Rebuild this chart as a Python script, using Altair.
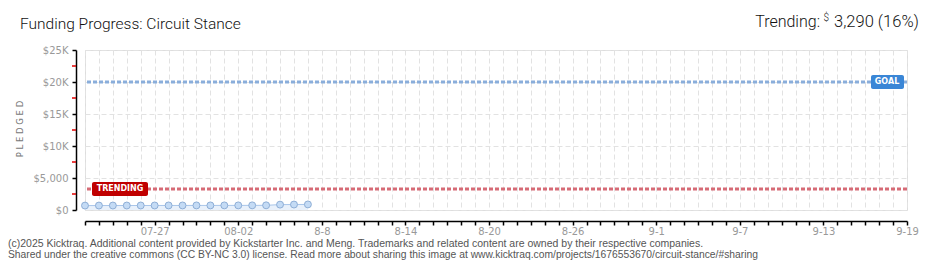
import altair as alt
import pandas as pd

# ---------------- data ----------------
dates = ["2025-07-22", "2025-07-23", "2025-07-24", "2025-07-25", "2025-07-26",
         "2025-07-27", "2025-07-28", "2025-07-29", "2025-07-30", "2025-07-31",
         "2025-08-01", "2025-08-02", "2025-08-03", "2025-08-04", "2025-08-05",
         "2025-08-06", "2025-08-07"]
pledged = [690, 695, 700, 700, 705, 705, 710, 710, 715, 715,
           720, 720, 725, 730, 840, 855, 870]

goal_value = 20000
trending_value = 3290

x_label_dates = ["2025-07-27", "2025-08-02", "2025-08-08", "2025-08-14", "2025-08-20",
                 "2025-08-26", "2025-09-01", "2025-09-07", "2025-09-13", "2025-09-19"]
x_label_texts = ["07-27", "08-02", "8-8", "8-14", "8-20", "8-26", "9-1", "9-7", "9-13", "9-19"]
x_start = "2025-07-22"
x_end = "2025-09-19"

y_tick_values = [0, 5000, 10000, 15000, 20000, 25000]
y_tick_labels = ["$0", "$5,000", "$10K", "$15K", "$20K", "$25K"]
y_minor_values = [2500, 7500, 12500, 17500, 22500]

title_text = "Funding Progress: Circuit Stance"
footer_lines = [
    "(c)2025 Kicktraq. Additional content provided by Kickstarter Inc. and Meng. Trademarks and related content are owned by their respective companies.",
    "Shared under the creative commons (CC BY-NC 3.0) license. Read more about sharing this image at www.kicktraq.com/projects/1676553670/circuit-stance/#sharing",
]

# ---------------- helpers ----------------
def dt(s):
    t = pd.Timestamp(s)
    return alt.DateTime(year=t.year, month=t.month, date=t.day)

day_ticks = [dt(d) for d in pd.date_range(x_start, x_end, freq="D")]

D = "[" + ",".join(f"'{d}'" for d in x_label_dates) + "]"
L = "[" + ",".join(f"'{t}'" for t in x_label_texts) + "]"
key = "timeFormat(datum.value, '%Y-%m-%d')"
x_label_expr = f"indexof({D}, {key}) >= 0 ? {L}[indexof({D}, {key})] : ''"

YV = "[" + ",".join(str(v) for v in y_tick_values) + "]"
YL = "[" + ",".join(f"'{t}'" for t in y_tick_labels) + "]"
y_label_expr = f"{YL}[indexof({YV}, datum.value)]"

df = pd.DataFrame({"date": [d + "T00:00:00" for d in dates], "pledged": pledged})
one = alt.InlineData(values=[{"a": 1}])

x_scale = alt.Scale(domain=[dt(x_start), dt(x_end)], nice=False, padding=0)
y_scale = alt.Scale(domain=[0, 25000], nice=False, zero=True)

axis_common = dict(
    domainColor="#000", domainWidth=1.5, tickColor="#000", tickWidth=1.5, tickSize=4,
    grid=True, gridColor="#e2e2e2", gridDash=[5, 3], gridWidth=1,
    labelColor="#999", labelFont="DejaVu Sans", labelFontSize=10, title=None,
    labelFlush=False, labelOverlap=False,
)
x_axis = alt.Axis(values=day_ticks, labelExpr=x_label_expr, offset=11, labelPadding=1,
                  labelBaseline="top", **axis_common)
y_axis = alt.Axis(values=y_tick_values, labelExpr=y_label_expr, offset=9, labelPadding=4, **axis_common)

def X(field):
    return alt.X(field, scale=x_scale, axis=x_axis)

def Y(field):
    return alt.Y(field, scale=y_scale, axis=y_axis)

def XD(v):
    return alt.XDatum(v, type="temporal", scale=x_scale, axis=x_axis)

def YD(v):
    return alt.YDatum(v, type="quantitative", scale=y_scale, axis=y_axis)

area = alt.Chart(df).mark_area(color="#e9f1fb", opacity=1).encode(x=X("date:T"), y=Y("pledged:Q"))
line = alt.Chart(df).mark_line(color="#a9c6ea", strokeWidth=1).encode(x=X("date:T"), y=Y("pledged:Q"))
points = alt.Chart(df).mark_circle(size=48, fill="#c4dbf5", stroke="#8eaed6",
                                   strokeWidth=1, opacity=1).encode(x=X("date:T"), y=Y("pledged:Q"))

goal_rule = alt.Chart(one).mark_rule(color="#8aaedb", strokeWidth=3, strokeDash=[4, 2]).encode(
    y=YD(goal_value))
trend_rule = alt.Chart(one).mark_rule(color="#d66b76", strokeWidth=3, strokeDash=[4, 2]).encode(
    y=YD(trending_value))

trend_box = alt.Chart(one).mark_rect(color="#c00000", cornerRadius=2,
                                     xOffset=7, x2Offset=63, yOffset=-7, y2Offset=7).encode(
    x=XD(dt(x_start)), x2=alt.datum(dt(x_start)),
    y=YD(trending_value), y2=alt.datum(trending_value))
trend_txt = alt.Chart(one).mark_text(text="TRENDING", color="white", font="DejaVu Sans",
                                     fontWeight="bold", fontSize=8, dx=35, dy=0,
                                     align="center", baseline="middle").encode(
    x=XD(dt(x_start)), y=YD(trending_value))

goal_box = alt.Chart(one).mark_rect(color="#3a86d6", cornerRadius=2,
                                    xOffset=-36, x2Offset=-3, yOffset=-7, y2Offset=7).encode(
    x=XD(dt(x_end)), x2=alt.datum(dt(x_end)),
    y=YD(goal_value), y2=alt.datum(goal_value))
goal_txt = alt.Chart(one).mark_text(text="GOAL", color="white", font="DejaVu Sans",
                                    fontWeight="bold", fontSize=8, dx=-20, dy=0,
                                    align="center", baseline="middle").encode(
    x=XD(dt(x_end)), y=YD(goal_value))

minor = alt.Chart(pd.DataFrame({"v": y_minor_values})).mark_rule(color="#e00000", strokeWidth=1.5).encode(
    y=Y("v:Q"), x=alt.value(-13), x2=alt.value(-9))

title = alt.Chart(one).mark_text(text=title_text, font="Roboto", fontWeight=300, fontSize=15.5,
                                 color="#111", align="left", baseline="alphabetic").encode(
    x=alt.value(-65), y=alt.value(-21))
tr1 = alt.Chart(one).mark_text(text="Trending:", font="Roboto", fontWeight=300, fontSize=16,
                               color="#111", align="right", baseline="alphabetic").encode(
    x=alt.value(735), y=alt.value(-23))
tr2 = alt.Chart(one).mark_text(text="$", font="Roboto", fontWeight=300, fontSize=10,
                               color="#111", align="right", baseline="alphabetic").encode(
    x=alt.value(744), y=alt.value(-29))
tr3 = alt.Chart(one).mark_text(text="3,290 (16%)", font="Roboto", fontWeight=300, fontSize=16.5,
                               color="#111", align="right", baseline="alphabetic").encode(
    x=alt.value(834), y=alt.value(-23))

ylab = alt.Chart(one).mark_text(text="P L E D G E D", font="DejaVu Sans", fontSize=8.5, color="#777",
                                angle=270, align="center", baseline="middle").encode(
    x=alt.value(-65), y=alt.value(79))

foot1 = alt.Chart(one).mark_text(text=footer_lines[0], font="Liberation Sans", fontSize=10.5,
                                 color="#555", align="left", baseline="alphabetic").encode(
    x=alt.value(-77), y=alt.value(197))
foot2 = alt.Chart(one).mark_text(text=footer_lines[1], font="Liberation Sans", fontSize=10.3,
                                 color="#555", align="left", baseline="alphabetic").encode(
    x=alt.value(-77), y=alt.value(208))

chart = alt.layer(
    area, line, goal_rule, trend_rule, points, trend_box, trend_txt, goal_box, goal_txt,
    minor, title, tr1, tr2, tr3, ylab, foot1, foot2
).properties(
    width=822, height=160,
    padding={"left": 77, "top": 42, "right": 25, "bottom": 52},
    autosize=alt.AutoSizeParams(type="none"),
).configure_view(strokeWidth=0, stroke="transparent").configure(background="white")

chart.save("out.html", embed_options={"renderer": "svg", "actions": False})
